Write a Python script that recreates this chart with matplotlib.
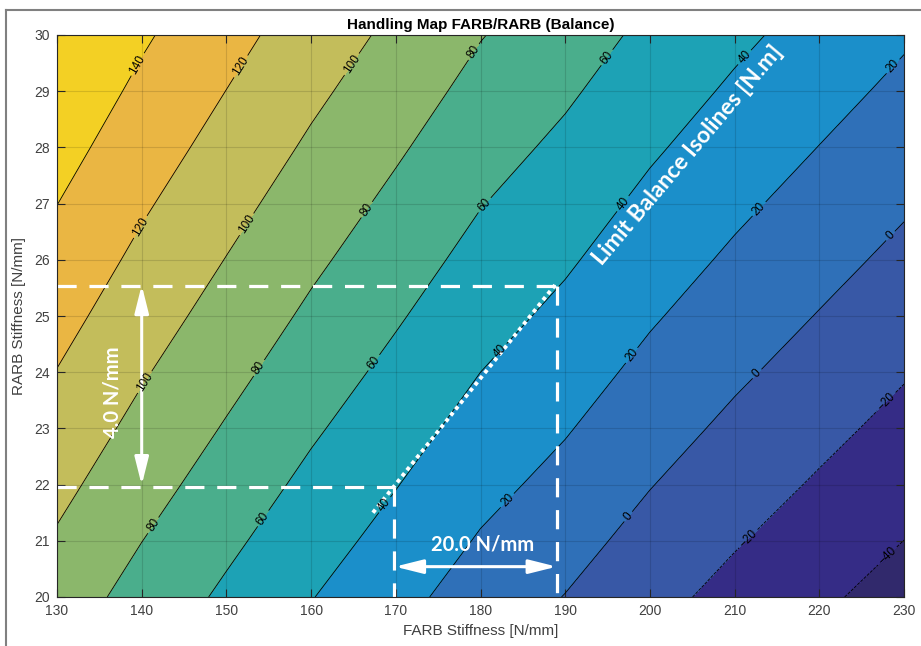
import numpy as np
import matplotlib.pyplot as plt
from matplotlib.lines import Line2D

plt.rcParams['font.family'] = ['Liberation Sans', 'DejaVu Sans']

# grid of the map
farb = [130, 140, 150, 160, 170, 180, 190, 200, 210, 220, 230]
rarb = [20, 21, 22, 23, 24, 25, 26, 27, 28, 29, 30]

# balance [N.m], one row per RARB value
balance = [
    [90.5, 72.8, 56.6, 40.7, 26.0, 11.0, -0.5, -14.0, -25.9, -36.8, -47.5],
    [97.9, 80.2, 64.0, 48.1, 33.4, 18.4, 6.9, -6.6, -18.5, -29.4, -40.1],
    [105.2, 87.5, 71.3, 55.4, 40.7, 25.7, 14.2, 0.7, -11.2, -22.1, -32.8],
    [112.4, 94.7, 78.5, 62.6, 47.9, 32.9, 21.4, 7.9, -4.0, -14.9, -25.6],
    [119.5, 101.8, 85.6, 69.7, 55.0, 40.0, 28.5, 15.0, 3.1, -7.8, -18.5],
    [126.5, 108.8, 92.6, 76.7, 62.0, 47.0, 35.5, 22.0, 10.1, -0.8, -11.5],
    [133.4, 115.7, 99.5, 83.6, 68.9, 53.9, 42.4, 28.9, 17.0, 6.1, -4.6],
    [140.2, 122.5, 106.3, 90.4, 75.7, 60.7, 49.2, 35.7, 23.8, 12.9, 2.2],
    [147.0, 129.3, 113.1, 97.2, 82.5, 67.5, 56.0, 42.5, 30.6, 19.7, 9.0],
    [153.7, 136.0, 119.8, 103.9, 89.2, 74.2, 62.7, 49.2, 37.3, 26.4, 15.7],
    [160.3, 142.6, 126.4, 110.5, 95.8, 80.8, 69.3, 55.8, 43.9, 33.0, 22.3],
]

levels = [-60, -40, -20, 0, 20, 40, 60, 80, 100, 120, 140, 160, 180]
band_colors = ['#31296c', '#352c86', '#3858a6', '#2f70b8', '#1b8fca', '#1da2b5',
               '#4aae8c', '#8bb76b', '#c3bd5b', '#eab643', '#f3d024', '#f8e61c']

# where the isoline labels sit
label_pos = [(139.6, 29.47), (151.4, 29.47), (164.6, 29.5), (179.5, 29.67), (194.3, 29.67),
             (211.2, 29.6), (228.3, 29.5), (139.8, 26.59), (152.2, 26.65), (166.6, 26.89),
             (181.1, 26.89), (196.8, 27.0), (213.0, 26.89), (228.3, 26.44), (140.6, 23.8),
             (153.6, 24.1), (167.5, 24.16), (182.5, 24.36), (198.0, 24.28), (212.8, 23.95),
             (228.1, 23.45), (141.6, 21.25), (154.6, 21.37), (168.7, 21.64), (183.5, 21.67),
             (197.7, 21.4), (212.0, 20.98), (228.1, 20.72)]

F, R = np.meshgrid(farb, rarb)
Z = np.array(balance)

fig = plt.figure(figsize=(9.21, 6.46), dpi=100)
ax = fig.add_axes([57/921, 1-597/646, 847/921, 562/646])

ax.contourf(F, R, Z, levels=levels, colors=band_colors)
cs = ax.contour(F, R, Z, levels=levels, colors='k', linewidths=0.6)
ax.clabel(cs, manual=label_pos, fontsize=8.5, inline=True, inline_spacing=3,
          fmt=lambda v: f'{v:g}'.replace('-', '\u2212'))

ax.set_xlim(130, 230)
ax.set_ylim(20, 30)
ax.set_xticks(range(130, 231, 10))
ax.set_yticks(range(20, 31))
ax.grid(True, color='k', alpha=0.13, linewidth=0.8)
ax.tick_params(direction='in', length=5.5, top=True, right=True, colors='#262626',
               labelsize=10, labelcolor='#404040')
ax.tick_params(axis='x', pad=5)
ax.tick_params(axis='y', pad=5)
for s in ax.spines.values():
    s.set_color('#262626')
    s.set_linewidth(0.8)

ax.set_title('Handling Map FARB/RARB (Balance)', fontsize=11, fontweight='bold', pad=4)
ax.set_xlabel('FARB Stiffness [N/mm]', fontsize=11, color='#404040', labelpad=4)
ax.set_ylabel('RARB Stiffness [N/mm]', fontsize=11, color='#404040', labelpad=6)

# white annotation overlay
dash = dict(color='white', lw=2.3, linestyle=(0, (6, 4)), clip_on=False)
ax.plot([130, 189], [25.53, 25.53], **dash)
ax.plot([189, 189], [25.53, 19.88], **dash)
ax.plot([130, 169.8], [21.96, 21.96], **dash)
ax.plot([169.8, 169.8], [21.96, 19.88], **dash)
ax.plot([167.3, 188.8], [21.5, 25.55], color='white', lw=2.8, linestyle=(0, (1, 1)))

arw = dict(arrowstyle='<|-|>,head_length=1.2,head_width=0.3', color='white', lw=2.2,
           mutation_scale=14, shrinkA=0, shrinkB=0)
ax.annotate('', xy=(140, 21.99), xytext=(140, 25.55), arrowprops=arw)
ax.annotate('', xy=(169.9, 20.54), xytext=(189, 20.54), arrowprops=arw)

ax.text(136.5, 23.65, '4.0 N/mm', color='white', fontsize=14.5, fontweight='bold',
        family='Lato', rotation=90, ha='center', va='center')
ax.text(180.3, 20.93, '20.0 N/mm', color='white', fontsize=14.5, fontweight='bold',
        family='Lato', ha='center', va='center')
ax.text(204.5, 27.86, 'Limit Balance Isolines [N.m]', color='white', fontsize=16.5,
        fontweight='bold', family='Lato', rotation=49.7, ha='center', va='center',
        rotation_mode='anchor')

# screenshot frame
fig.add_artist(Line2D([6/921, 1], [1-10/646, 1-10/646], color='#808080', lw=1.5))
fig.add_artist(Line2D([6/921, 6/921], [0, 1-10/646], color='#808080', lw=1.5))

fig.savefig('out.png', dpi=100)
